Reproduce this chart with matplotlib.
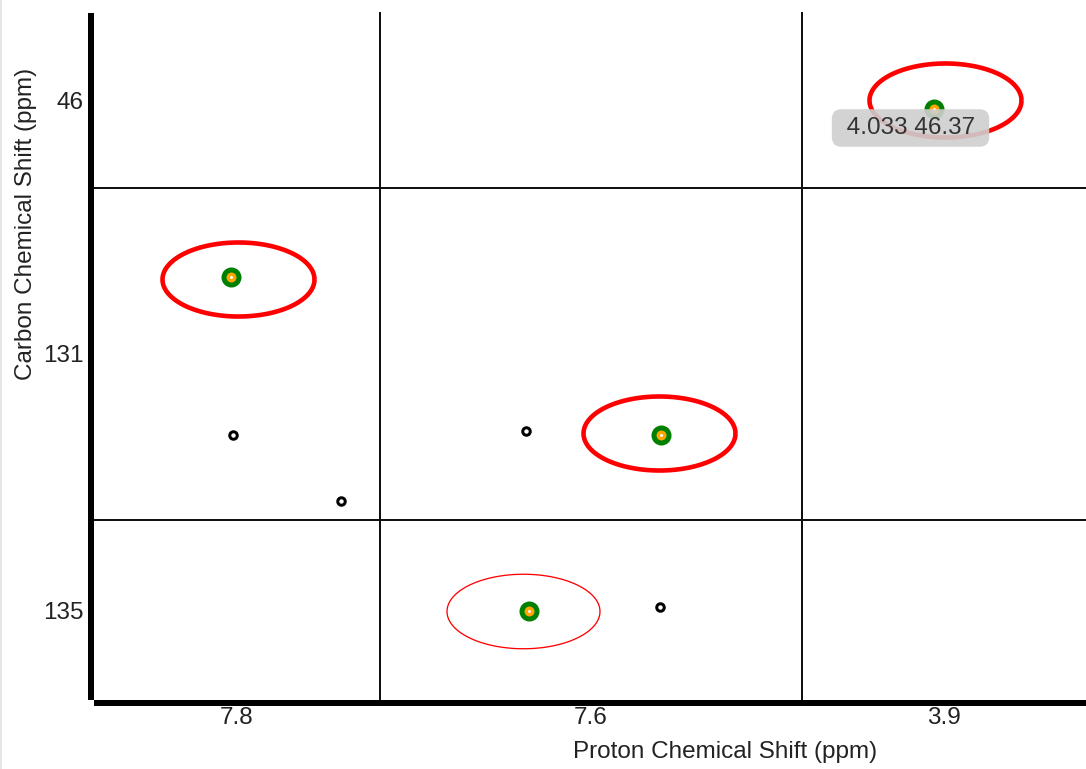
import matplotlib
matplotlib.use('Agg')
import matplotlib.pyplot as plt
from matplotlib.path import Path
from matplotlib.lines import Line2D
import numpy as np

plt.rcParams['font.family'] = ['Liberation Sans', 'DejaVu Sans']

# ---------------- data ----------------
x_labels = ['7.8', '7.6', '3.9']
x_ticks = [7.8, 7.6, 3.9]
x_limits = [(7.8715, 7.7285), (7.7055, 7.4945), (5.789, 2.011)]
y_labels = ['46', '131', '135']
y_ticks = [46, 131, 135]
y_limits = [(49.81, 42.19), (132.66, 129.34), (135.90, 134.10)]

# matched observed peaks
obs_h = [7.803, 7.565, 7.631, 4.033]
obs_c = [130.23, 131.81, 135.01, 46.37]
# predicted regions (ellipses)
pred_h = [7.7995, 7.566, 7.634, 3.887]
pred_c = [130.25, 131.79, 135.01, 45.98]
pred_strong = [True, True, False, True]
# other (unmatched) peaks
other_h = [7.802, 7.748, 7.6325, 7.5655]
other_c = [131.81, 132.47, 131.77, 134.97]

hover_h, hover_c = 4.033, 46.37
hover_text = f"{hover_h} {hover_c}"

# ---------------- figure ----------------
W, H = 1086, 769
fig = plt.figure(figsize=(W / 100, H / 100), dpi=100)
px = 0.72  # points per pixel

gs = fig.add_gridspec(3, 3, left=94 / W, right=1.0, top=1 - 13 / H, bottom=1 - 700 / H,
                      width_ratios=[286, 422, 284], height_ratios=[175, 332, 180],
                      wspace=0, hspace=0)
axes = [[fig.add_subplot(gs[r, c]) for c in range(3)] for r in range(3)]

txt_color = '#222222'
fs = 17.5

for r in range(3):
    for c in range(3):
        ax = axes[r][c]
        ax.set_facecolor('none')
        ax.set_xlim(*x_limits[c])
        ax.set_ylim(*y_limits[r])
        for s in ax.spines.values():
            s.set_visible(False)
        ax.set_xticks([])
        ax.set_yticks([])
        if c < 2:
            ax.spines['right'].set_visible(True)
            ax.spines['right'].set_linewidth(2 * px)
            ax.spines['right'].set_color('#111111')
        if r < 2:
            ax.spines['bottom'].set_visible(True)
            ax.spines['bottom'].set_linewidth(2 * px)
            ax.spines['bottom'].set_color('#111111')
        if c == 0:
            sp = ax.spines['left']
            sp.set_visible(True)
            sp.set_linewidth(6 * px)
            sp.set_color('black')
            sp.set_capstyle('butt')
            sp.set_position(('outward', 3.5 * px))
            ax.set_yticks([y_ticks[r]])
            ax.set_yticklabels([y_labels[r]])
            ax.tick_params(axis='y', length=0, pad=5, labelsize=fs, labelcolor=txt_color)
        if r == 2:
            sp = ax.spines['bottom']
            sp.set_visible(True)
            sp.set_linewidth(6 * px)
            sp.set_color('black')
            sp.set_capstyle('butt')
            sp.set_position(('outward', 3 * px))
            ax.set_xticks([x_ticks[c]])
            ax.set_xticklabels([x_labels[c]])
            ax.tick_params(axis='x', length=0, pad=3, labelsize=fs, labelcolor=txt_color)


def find_ax(h, cval):
    ci = next(i for i, (a, b) in enumerate(x_limits) if min(a, b) <= h <= max(a, b))
    ri = next(i for i, (a, b) in enumerate(y_limits) if min(a, b) <= cval <= max(a, b))
    return axes[ri][ci]


t = np.linspace(0, 2 * np.pi, 120)
ell_path = Path(np.column_stack([np.cos(t), 0.487 * np.sin(t)]), closed=False)

for h, cv, strong in zip(pred_h, pred_c, pred_strong):
    ax = find_ax(h, cv)
    ax.plot([h], [cv], marker=ell_path, linestyle='none',
            markersize=(152 if strong else 153) * px,
            markerfacecolor='none', markeredgecolor='#ff0000',
            markeredgewidth=(4.6 if strong else 1.3) * px, clip_on=False, zorder=2)

for h, cv in zip(other_h, other_c):
    ax = find_ax(h, cv)
    ax.plot([h], [cv], marker='o', linestyle='none', markersize=7.5 * px,
            markerfacecolor='white', markeredgecolor='black',
            markeredgewidth=3 * px, clip_on=False, zorder=3)

for h, cv in zip(obs_h, obs_c):
    ax = find_ax(h, cv)
    ax.plot([h], [cv], marker='o', linestyle='none', markersize=15 * px,
            markerfacecolor='#ffa500', markeredgecolor='#008000',
            markeredgewidth=5 * px, clip_on=False, zorder=4)
    ax.plot([h], [cv], marker='o', linestyle='none', markersize=3 * px,
            markerfacecolor='white', markeredgecolor='none', clip_on=False, zorder=5)

ax = find_ax(hover_h, hover_c)
ax.annotate(' ' + hover_text + ' ', xy=(hover_h, hover_c), xytext=(-23.5 * px, -19 * px),
            textcoords='offset points', ha='center', va='center', fontsize=fs,
            color='#333333', zorder=10, annotation_clip=False,
            bbox=dict(boxstyle='round,pad=0.32,rounding_size=0.4', facecolor='#cfcfcf',
                      edgecolor='none', alpha=0.9))

fig.text(725.5 / W, 1 - 752 / H, 'Proton Chemical Shift (ppm)', ha='center', va='center',
         fontsize=fs, color=txt_color)
fig.text(26 / W, 1 - 224 / H, 'Carbon Chemical Shift (ppm)', ha='center', va='center',
         rotation=90, fontsize=fs, color=txt_color)

fig.add_artist(Line2D([0.8 / W, 0.8 / W], [0, 1], transform=fig.transFigure,
                      color='#dddddd', linewidth=1.5 * px))

fig.savefig('out.png', dpi=100)
